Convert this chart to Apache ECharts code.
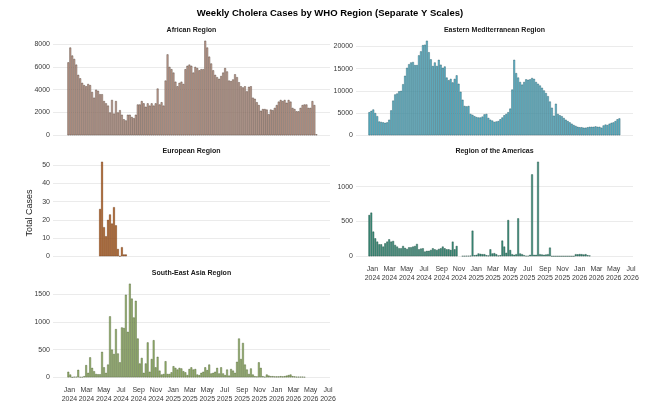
<!DOCTYPE html>
<html>
<head>
<meta charset="utf-8">
<title>Weekly Cholera Cases by WHO Region</title>
<script src="https://cdn.jsdelivr.net/npm/echarts@6/dist/echarts.min.js"></script>
<style>
  html, body { margin: 0; padding: 0; background: #fff; }
  #chart { width: 648px; height: 403px; }
</style>
</head>
<body>
<div id="chart"></div>
<script>
// weeks shared by every panel (week 0 = 21 Dec 2023)
const firstWeek = [2023, 11, 21];
const weekCount = 127;
const monthNames = ['Jan', 'Feb', 'Mar', 'Apr', 'May', 'Jun', 'Jul', 'Aug', 'Sep', 'Oct', 'Nov', 'Dec'];
// x tick labels (first of month)
const tickMonths = [
  [2024, 0], [2024, 2], [2024, 4], [2024, 6], [2024, 8], [2024, 10],
  [2025, 0], [2025, 2], [2025, 4], [2025, 6], [2025, 8], [2025, 10],
  [2026, 0], [2026, 2], [2026, 4], [2026, 6]
];

// African Region, weeks 1..126
const africanStart = 1;
const african = [
  6400, 7700, 7000, 6700, 6200, 5300, 5000, 4600, 4400, 4300,
  4500, 4400, 3800, 3300, 4000, 3900, 3600, 3600, 3000, 2800,
  2600, 2000, 3100, 1900, 3000, 2000, 2200, 1800, 1400, 1300,
  1800, 1800, 1600, 1500, 1800, 2700, 2700, 3000, 2800, 2500,
  2800, 2600, 2800, 2600, 2800, 4100, 2700, 2900, 2600, 4800,
  7100, 6000, 5800, 5500, 4700, 4300, 4600, 4700, 4500, 5800,
  6100, 6200, 6100, 5500, 6000, 5900, 5700, 5800, 5800,
  8300, 7700, 6900, 6300, 5700, 5300, 5100, 4950, 5200, 5500,
  5900, 5600, 4800, 4750, 4900, 5350, 5100, 4650, 4300, 4200,
  4300, 3850, 4250, 4300, 3300, 3200, 2900, 2650, 2150, 2300,
  2300, 2250, 1850, 2250, 2200, 2400, 2650, 2950, 3100, 3000,
  3100, 2850, 3100, 2950, 2400, 2300, 2100, 2100, 2400, 2650,
  2700, 2700, 2400, 2400, 3000, 2650, 80
];

// Eastern Mediterranean Region, weeks 0..126
const easternMedStart = 0;
const easternMed = [
  5200, 5500, 5800, 5000, 4300, 3100, 3000, 2900, 2800, 2900,
  3500, 5600, 7800, 9200, 9400, 9900, 10000, 11500, 13400, 15200,
  16000, 16400, 16500, 15800, 15800, 18000, 18900, 20300, 20400, 21300,
  18700, 17100, 15600, 16400, 15600, 17000, 15900, 15200, 15500, 13000,
  12400, 12700, 11900, 12700, 13500, 11600, 9800, 8000, 6600, 6500,
  6600, 4800, 4600, 4300, 4100, 4000, 4000, 4200, 4700, 4800,
  3900, 3500, 3300, 3000, 3100, 3200, 3600, 4000, 4500, 4800,
  5200, 6000, 10300, 17000, 14000, 13000, 12000, 11400, 12000, 12600,
  12500, 12600, 12900, 12700, 12000, 11600, 11200, 10700, 10100, 9500,
  8800, 7600, 6200, 4400, 7100, 4800, 4500, 4300, 3900, 3500,
  3200, 2900, 2600, 2300, 2100, 1900, 1800, 1800, 1700, 1700,
  1800, 1900, 1900, 1900, 2000, 1900, 1900, 1700, 2200, 2400,
  2300, 2600, 2800, 2900, 3200, 3600, 3800
];

// European Region, weeks 17..30
const europeanStart = 17;
const european = [26, 52, 16, 11, 20, 23, 18, 27, 17, 4, 0, 5, 1, 1];

// Region of the Americas, weeks 0..111 (null = not reported)
const americasStart = 0;
const americas = [
  593, 627, 354, 258, 210, 172, 172, 139, 187, 210,
  244, 210, 220, 163, 139, 115, 115, 148, 120, 105,
  129, 129, 139, 148, 177, 100, 110, 115, 67, 77,
  77, 91, 115, 100, 91, 105, 115, 139, 115, 100,
  100, 91, 210, 100, 148, null, null, 3, 3, 5,
  5, 8, 368, 15, 20, 40, 35, 30, 30, 15,
  10, 100, 40, 45, 30, 10, 15, 225, 139, 50,
  521, 90, 30, 20, 30, 545, 40, 30, 15, 5,
  5, 20, 1177, 20, 20, 1359, 30, 25, 20, 25,
  30, 124, 0, 0, 0, 0, 0, 0, 0, 0,
  0, 0, 0, 0, 30, 28, 32, 30, 25, 30,
  15, 10
];

// South-East Asia Region, weeks 1..120
const seAsiaStart = 1;
const seAsia = [
  100, 50, 0, 10, 10, 135, 5, 5, 20, 220,
  80, 360, 170, 110, 60, 55, 55, 460, 180, 80,
  230, 1100, 500, 420, 870, 430, 270, 900, 890, 1490,
  820, 1690, 1420, 1080, 1380, 700, 250, 350, 80, 250,
  630, 100, 330, 670, 180, 370, 120, 50, 60, 290,
  60, 60, 90, 200, 170, 140, 170, 160, 110, 90,
  40, 150, 180, 140, 150, 50, 40, 80, 100, 180,
  130, 230, 70, 80, 100, 170, 70, 180, 70, 40,
  140, 30, 150, 120, 80, 280, 700, 330, 620, 230,
  140, 60, 160, 50, 20, 15, 270, 170, 20, 10,
  50, 30, 20, 20, 15, 15, 15, 20, 15, 20,
  30, 40, 50, 20, 15, 10, 10, 10, 10, 5
];

const yTicks = {
  african: [0, 2000, 4000, 6000, 8000],
  easternMed: [0, 5000, 10000, 15000, 20000],
  european: [0, 10, 20, 30, 40, 50],
  americas: [0, 500, 1000],
  seAsia: [0, 500, 1000, 1500]
};

const weeks = [];
for (let i = 0; i < weekCount; i++) {
  weeks.push(+new Date(firstWeek[0], firstWeek[1], firstWeek[2] + 7 * i));
}
const tickValues = tickMonths.map(m => +new Date(m[0], m[1], 1));

function pairs(values, start) {
  return values.map((v, i) => [weeks[start + i], v]);
}

const font = '"Liberation Sans", Arial, sans-serif';
const panels = [
  { name: 'African Region', data: pairs(african, africanStart), ticks: yTicks.african, max: Math.max(...african),
    left: 53, top: 36, fill: '#cba89a', edge: '#3d2a22', xLabels: false },
  { name: 'Eastern Mediterranean Region', data: pairs(easternMed, easternMedStart), ticks: yTicks.easternMed, max: Math.max(...easternMed),
    left: 356, top: 36, fill: '#62c0d6', edge: '#1d4a55', xLabels: false },
  { name: 'European Region', data: pairs(european, europeanStart), ticks: yTicks.european, max: Math.max(...european),
    left: 53, top: 157, fill: '#b8621f', edge: '#5a2c0c', xLabels: false },
  { name: 'Region of the Americas', data: pairs(americas, americasStart), ticks: yTicks.americas, max: Math.max(...americas.filter(v => v != null)),
    left: 356, top: 157, fill: '#3f9480', edge: '#1a463a', xLabels: true },
  { name: 'South-East Asia Region', data: pairs(seAsia, seAsiaStart), ticks: yTicks.seAsia, max: Math.max(...seAsia),
    left: 53, top: 279, fill: '#9db873', edge: '#3c5124', xLabels: true }
];
const panelW = 277, panelH = 104;
const xMin = +new Date(2023, 10, 4), xMax = +new Date(2026, 6, 8);

const chart = echarts.init(document.getElementById('chart'));

const option = {
  animation: false,
  backgroundColor: '#fff',
  grid: panels.map(p => ({ left: p.left, top: p.top, width: panelW, height: panelH, containLabel: false })),
  xAxis: panels.map((p, i) => ({
    type: 'value',
    gridIndex: i,
    min: xMin,
    max: xMax,
    axisLine: { show: false },
    axisTick: { show: false, customValues: tickValues },
    splitLine: { show: false },
    axisLabel: {
      show: p.xLabels,
      customValues: tickValues,
      margin: 4,
      fontSize: 7,
      lineHeight: 8.5,
      color: '#3a3a3a',
      fontFamily: font,
      hideOverlap: false,
      formatter: v => {
        const d = new Date(v);
        return monthNames[d.getMonth()] + '\n' + d.getFullYear();
      }
    }
  })),
  yAxis: panels.map((p, i) => ({
    type: 'value',
    gridIndex: i,
    min: -0.05 * p.max,
    max: 1.05 * p.max,
    axisLine: { show: false },
    axisTick: { show: false, customValues: p.ticks },
    splitLine: { show: true, lineStyle: { color: '#ebebeb', width: 1 } },
    axisLabel: {
      customValues: p.ticks,
      margin: 3,
      fontSize: 7,
      color: '#3a3a3a',
      fontFamily: font,
      formatter: v => String(Math.round(v))
    }
  })),
  series: panels.map((p, i) => ({
    type: 'bar',
    name: p.name,
    xAxisIndex: i,
    yAxisIndex: i,
    data: p.data,
    barWidth: 1.8,
    itemStyle: { color: p.fill, borderColor: p.edge, borderWidth: 0.4 }
  })),
  graphic: [
    {
      type: 'text', x: 330, y: 13,
      style: { text: 'Weekly Cholera Cases by WHO Region (Separate Y Scales)', fontSize: 9.5, fontWeight: 'bold',
        fontFamily: font, fill: '#000', align: 'center', verticalAlign: 'middle' }
    },
    {
      type: 'text', x: 30, y: 213, rotation: Math.PI / 2,
      style: { text: 'Total Cases', fontSize: 9, fontFamily: font, fill: '#222', align: 'center', verticalAlign: 'middle' }
    }
  ].concat(panels.map(p => ({
    type: 'text', x: p.left + panelW / 2, y: p.top - 6,
    style: { text: p.name, fontSize: 7, fontWeight: 'bold', fontFamily: font, fill: '#1a1a1a', align: 'center', verticalAlign: 'middle' }
  })))
};

chart.setOption(option);
</script>
</body>
</html>
